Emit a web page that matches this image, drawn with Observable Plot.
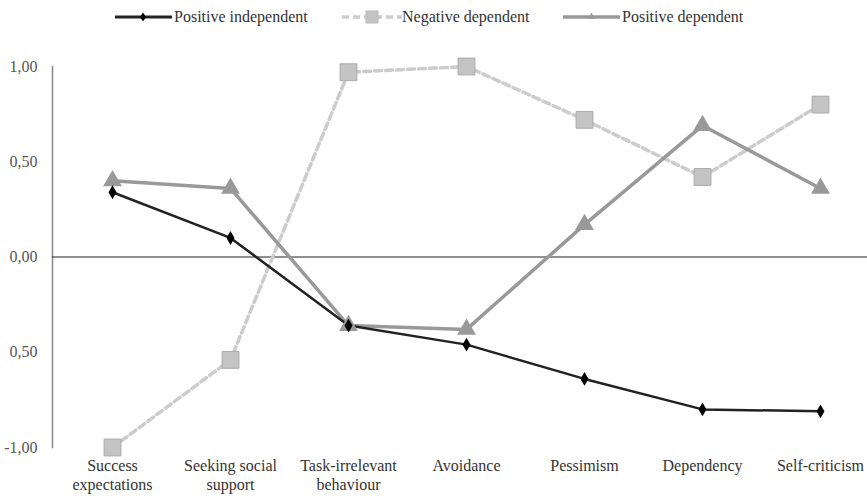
<!DOCTYPE html>
<html><head><meta charset="utf-8">
<script src="https://cdn.jsdelivr.net/npm/d3@7"></script>
<script src="https://cdn.jsdelivr.net/npm/@observablehq/plot@0.6"></script>
<style>
body{margin:0;background:#fff;font-family:'Liberation Serif';}
#legend{height:36px;position:relative;font-size:16px;color:#333;font-family:'Liberation Serif';}
#legend .it{position:absolute;top:8px;display:flex;align-items:center;}
</style></head><body>
<div id="legend"></div>
<div id="chart"></div>
<script>
const categories = ["Success\nexpectations","Seeking social\nsupport","Task-irrelevant\nbehaviour","Avoidance","Pessimism","Dependency","Self-criticism"];
const seriesNames = ["Positive independent","Negative dependent","Positive dependent"];
const positiveIndependent = [0.34, 0.10, -0.36, -0.46, -0.64, -0.80, -0.81];
const negativeDependent = [-1.00, -0.54, 0.97, 1.00, 0.72, 0.42, 0.80];
const positiveDependent = [0.40, 0.36, -0.36, -0.38, 0.17, 0.69, 0.36];
const yTicks = [-1, -0.5, 0, 0.5, 1];
const yTickLabels = ["-1,00", "0,50", "0,00", "0,50", "1,00"];

const FONT = "'Liberation Serif'";
const rows = (vals) => categories.map((c, i) => ({c, v: vals[i]}));
const pi = rows(positiveIndependent), nd = rows(negativeDependent), pd = rows(positiveDependent);

// legend
const leg = document.getElementById("legend");
const sw = [
  `<svg width="59" height="16"><line x1="0" x2="57" y1="8" y2="8" stroke="#222" stroke-width="3"/><path d="M28,3.5 L31,8 L28,12.5 L25,8Z" fill="#000"/></svg>`,
  `<svg width="60" height="16"><line x1="0" x2="60" y1="8" y2="8" stroke="#ccc" stroke-width="3.5" stroke-dasharray="7,4"/><rect x="24" y="2" width="12" height="12" fill="#c4c4c4" stroke="#bbb"/></svg>`,
  `<svg width="59" height="16"><line x1="0" x2="57" y1="8" y2="8" stroke="#999" stroke-width="3.5"/><path d="M28.5,3.5 L32,10 L25,10Z" fill="#999"/></svg>`
];
const legX = [115, 342, 563];
seriesNames.forEach((n, i) => {
  const d = document.createElement("div"); d.className = "it";
  d.style.left = legX[i] + "px";
  d.innerHTML = sw[i] + `<span>${n}</span>`;
  leg.appendChild(d);
});

const chart = Plot.plot({
  width: 867, height: 460,
  marginLeft: 52, marginRight: 0, marginTop: 30, marginBottom: 49,
  style: {fontFamily: FONT, fontSize: "16px", color: "#333", background: "#fff"},
  x: {type: "point", domain: categories, range: [53, 879], padding: 0.5},
  y: {domain: [-1, 1]},
  marks: [
    Plot.frame({anchor: "left", stroke: "#888", strokeWidth: 1.5}),
    Plot.ruleY([0], {stroke: "#222", strokeWidth: 1.2}),
    Plot.axisX({ticks: categories, tickSize: 0, tickPadding: 10, label: null, fontSize: 16, fill: "#333", lineHeight: 1.2, fontFamily: FONT}),
    Plot.axisY({ticks: yTicks, tickFormat: (d) => yTickLabels[yTicks.indexOf(d)], tickSize: 0, tickPadding: 15, label: null, fontSize: 16, fill: "#555", fontFamily: FONT}),
    Plot.line(nd, {x: "c", y: "v", stroke: "#cccccc", strokeWidth: 3.5, strokeDasharray: "7,4"}),
    Plot.line(pd, {x: "c", y: "v", stroke: "#999", strokeWidth: 3.5}),
    Plot.line(pi, {x: "c", y: "v", stroke: "#222", strokeWidth: 2.5}),
    Plot.dot(nd, {x: "c", y: "v", symbol: "square", r: 9.5, fill: "#c4c4c4", stroke: "#aaa", strokeWidth: 1}),
    Plot.dot(pd, {x: "c", y: "v", symbol: "triangle", r: 7, fill: "#999"}),
    Plot.dot(pi, {x: "c", y: "v", symbol: "diamond", r: 4.2, fill: "#000"})
  ]
});
document.getElementById("chart").appendChild(chart);
</script>
</body></html>
